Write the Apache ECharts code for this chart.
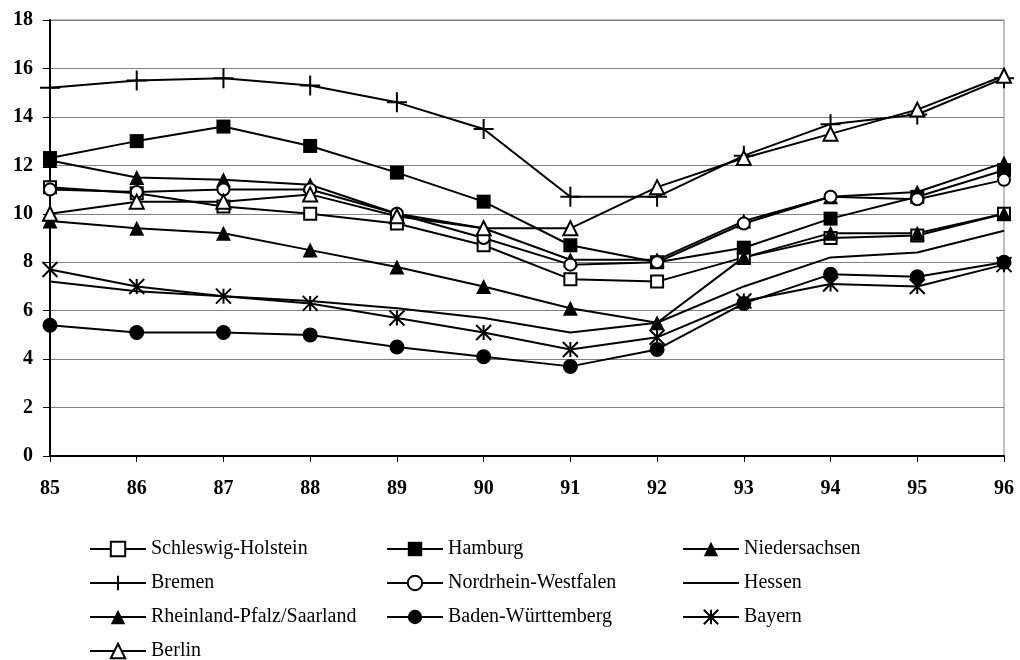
<!DOCTYPE html>
<html><head><meta charset="utf-8">
<script src="https://cdn.jsdelivr.net/npm/echarts@6/dist/echarts.min.js"></script>
<style>html,body{margin:0;padding:0;background:#fff}#c{width:1020px;height:660px}</style>
</head><body><div id="c"></div>
<script>
const years = ['85','86','87','88','89','90','91','92','93','94','95','96'];
const yTicks = [0, 18, 2];
const schleswigHolstein = [11.1, 10.85, 10.3, 10.0, 9.6, 8.7, 7.3, 7.2, 8.2, 9.0, 9.1, 10.0];
const hamburg = [12.3, 13.0, 13.6, 12.8, 11.7, 10.5, 8.7, 8.0, 8.6, 9.8, 10.7, 11.8];
const niedersachsen = [12.2, 11.5, 11.4, 11.2, 10.0, 9.4, 8.1, 8.1, 9.7, 10.7, 10.9, 12.1];
const bremen = [15.2, 15.5, 15.6, 15.3, 14.6, 13.5, 10.7, 10.7, 12.4, 13.7, 14.1, 15.6];
const nrw = [11.0, 10.9, 11.0, 11.0, 10.0, 9.0, 7.9, 8.0, 9.6, 10.7, 10.6, 11.4];
const hessen = [7.2, 6.8, 6.6, 6.4, 6.1, 5.7, 5.1, 5.5, 7.0, 8.2, 8.4, 9.3];
const rheinlandPfalzSaarland = [9.7, 9.4, 9.2, 8.5, 7.8, 7.0, 6.1, 5.5, 8.2, 9.2, 9.2, 10.0];
const badenWuerttemberg = [5.4, 5.1, 5.1, 5.0, 4.5, 4.1, 3.7, 4.4, 6.3, 7.5, 7.4, 8.0];
const bayern = [7.7, 7.0, 6.6, 6.3, 5.7, 5.1, 4.4, 4.9, 6.4, 7.1, 7.0, 7.9];
const berlin = [10.0, 10.5, 10.5, 10.8, 9.9, 9.4, 9.4, 11.1, 12.3, 13.3, 14.3, 15.7];

const FONT = '"Liberation Serif","Times New Roman",serif';
const PLUS = 'path://M10,0 L10,20 M0,10 L20,10';
const STAR = 'path://M0,0 L20,20 M0,20 L20,0 M10,0 L10,20';

function mk(name, data, symbol, size, stroked) {
  return {
    name, type: 'line', data, symbol, symbolSize: size,
    showSymbol: symbol !== 'none',
    lineStyle: {color: '#000', width: 2},
    itemStyle: {color: '#000', borderColor: '#000', borderWidth: stroked ? 2 : 0, opacity: symbol === 'none' ? 0 : 1},
    emphasis: {disabled: true},
    animation: false
  };
}

const series = [
  mk('Schleswig-Holstein', schleswigHolstein, 'emptyRect', 12, false),
  mk('Hamburg', hamburg, 'rect', 14, false),
  mk('Niedersachsen', niedersachsen, 'triangle', 15, false),
  mk('Bremen', bremen, PLUS, 20, true),
  mk('Nordrhein-Westfalen', nrw, 'emptyCircle', 12, false),
  mk('Hessen', hessen, 'none', 0, false),
  mk('Rheinland-Pfalz/Saarland', rheinlandPfalzSaarland, 'triangle', 15, false),
  mk('Baden-Württemberg', badenWuerttemberg, 'circle', 15, false),
  mk('Bayern', bayern, STAR, 15, true),
  mk('Berlin', berlin, 'emptyTriangle', 14, false)
];

const names = series.map(s => s.name);
const colLefts = [89, 386, 682];
const legends = colLefts.map((left, c) => ({
  orient: 'vertical', left, top: 539, height: 140, padding: 0,
  itemWidth: 56, itemHeight: 18, itemGap: 14,
  textStyle: {color: '#000', fontFamily: FONT, fontSize: 20},
  data: names.filter((n, i) => i % 3 === c)
}));

const chart = echarts.init(document.getElementById('c'));
chart.setOption({
  backgroundColor: '#fff',
  animation: false,
  grid: {left: 50, right: 16, top: 20, bottom: 204, show: true, borderColor: '#808080', borderWidth: 1},
  xAxis: {
    type: 'category', data: years, boundaryGap: false,
    axisLine: {lineStyle: {color: '#000', width: 2}},
    axisTick: {show: true, length: 6, lineStyle: {color: '#000', width: 1}},
    axisLabel: {color: '#000', fontFamily: FONT, fontWeight: 'bold', fontSize: 20, margin: 23},
    splitLine: {show: false}
  },
  yAxis: {
    type: 'value', min: yTicks[0], max: yTicks[1], interval: yTicks[2],
    axisLine: {show: true, lineStyle: {color: '#000', width: 2}},
    axisTick: {show: true, length: 7, lineStyle: {color: '#000', width: 1}},
    axisLabel: {color: '#000', fontFamily: FONT, fontWeight: 'bold', fontSize: 20, margin: 17},
    splitLine: {show: true, lineStyle: {color: '#808080', width: 1}}
  },
  legend: legends,
  series
});
</script></body></html>
